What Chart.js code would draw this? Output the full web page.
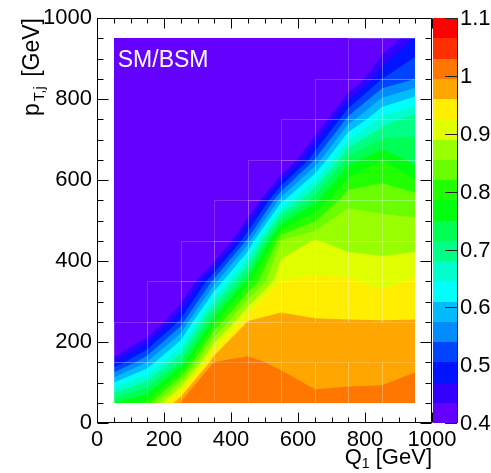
<!DOCTYPE html>
<html><head><meta charset="utf-8">
<script src="https://cdn.jsdelivr.net/npm/chart.js@4.4.1/dist/chart.umd.min.js"></script>
<style>html,body{margin:0;padding:0;background:#fff;}#wrap{width:491px;height:473px;}</style>
</head><body><div id="wrap"><canvas id="c" width="491" height="473"></canvas></div>
<script>
// ---- data: SM/BSM ratio at bin centres (Q1 columns, pT,j rows) ----
const qBins  = [50,150,250,350,450,550,650,750,850,950];
const ptBins = [50,150,250,350,450,550,650,750,850,950];
const row050 = [0.75,0.80,1.005,1.02,1.02,1.015,1.005,1.005,1.005,1.01];
const row150 = [0.47,0.575,0.72,0.995,1.0,0.99,0.975,0.98,0.982,0.99];
const row250 = [0.19,0.35,0.52,0.774,0.965,0.97,0.963,0.962,0.962,0.962];
const row350 = [0.1,0.1,0.34,0.554,0.767,0.927,0.93,0.93,0.915,0.93];
const row450 = [0.1,0.1,0.1,0.306,0.556,0.86,0.893,0.875,0.875,0.875];
const row550 = [0.1,0.1,0.1,0.1,0.345,0.594,0.74,0.85,0.845,0.84];
const row650 = [0.1,0.1,0.1,0.1,0.1,0.342,0.544,0.732,0.785,0.735];
const row750 = [0.1,0.1,0.1,0.1,0.1,0.1,0.364,0.552,0.655,0.70];
const row850 = [0.1,0.1,0.1,0.1,0.1,0.1,0.1,0.371,0.505,0.54];
const row950 = [0.1,0.1,0.1,0.1,0.1,0.1,0.1,0.1,0.385,0.475];
const contourLevels = [0.4,0.435,0.47,0.505,0.54,0.575,0.61,0.645,0.68,0.715,0.75,0.785,0.82,0.855,0.89,0.925,0.96,0.995,1.03,1.065,1.1];
const paletteColors = ['#6300ff','#3300ff','#0014ff','#0044ff','#008bff','#00bbff','#00fffb','#00ffcc','#00ff85','#00ff55','#00ff0e','#22ff00','#69ff00','#99ff00','#e0ff00','#ffee00','#ffa700','#ff7700','#ff3000','#ff0000'];
const axisTicks = [0,200,400,600,800,1000];
const zTickValues = [0.4,0.5,0.6,0.7,0.8,0.9,1.0,1.1];
const zTickLabels = ['0.4','0.5','0.6','0.7','0.8','0.9','1','1.1'];
const plotLabel = 'SM/BSM';

const grid = [row050,row150,row250,row350,row450,row550,row650,row750,row850,row950];
const FONT = "'Liberation Sans', Arial, Helvetica, sans-serif";

function bandOf(v){
  if (v < contourLevels[0]) return -1;
  for (let k=0;k<contourLevels.length-1;k++){ if (v < contourLevels[k+1]) return k; }
  return paletteColors.length-1;
}

const contourPlugin = {
  id:'contour',
  beforeDatasetsDraw(chart){
    const xs = chart.scales.x, ys = chart.scales.y, ctx = chart.ctx;
    ctx.save();
    for (let j=0;j<ptBins.length-1;j++){
      for (let i=0;i<qBins.length-1;i++){
        const X0 = Math.round(xs.getPixelForValue(qBins[i])), X1 = Math.round(xs.getPixelForValue(qBins[i+1]));
        const Y0 = Math.round(ys.getPixelForValue(ptBins[j])), Y1 = Math.round(ys.getPixelForValue(ptBins[j+1]));
        // perimeter: bottom-left, bottom-right, top-right, top-left
        const P = [[X0,Y0,grid[j][i]],[X1,Y0,grid[j][i+1]],[X1,Y1,grid[j+1][i+1]],[X0,Y1,grid[j+1][i]]];
        for (let k=0;k<paletteColors.length;k++){
          const T = k===0 ? -Infinity : contourLevels[k];
          const pts = [];
          for (let e=0;e<4;e++){
            const a = P[e], b = P[(e+1)%4];
            if (a[2] >= T) pts.push([a[0],a[1]]);
            if ((a[2]-T)*(b[2]-T) < 0){
              const t = (T-a[2])/(b[2]-a[2]);
              pts.push([a[0]+t*(b[0]-a[0]), a[1]+t*(b[1]-a[1])]);
            }
          }
          if (pts.length < 3) continue;
          ctx.fillStyle = paletteColors[k];
          ctx.beginPath();
          ctx.moveTo(pts[0][0], pts[0][1]);
          for (let m=1;m<pts.length;m++) ctx.lineTo(pts[m][0], pts[m][1]);
          ctx.closePath();
          ctx.fill();
        }
      }
    }
    // faint seams around cells that contain contour boundaries
    ctx.strokeStyle = 'rgba(255,255,255,0.18)';
    ctx.lineWidth = 1;
    for (let j=0;j<ptBins.length-1;j++){
      for (let i=0;i<qBins.length-1;i++){
        const b = [grid[j][i],grid[j][i+1],grid[j+1][i],grid[j+1][i+1]].map(bandOf);
        if (b.every(v=>v===b[0])) continue;
        const xa = Math.round(xs.getPixelForValue(qBins[i]))+0.5, xb = Math.round(xs.getPixelForValue(qBins[i+1]))+0.5;
        const ya = Math.round(ys.getPixelForValue(ptBins[j+1]))+0.5, yb = Math.round(ys.getPixelForValue(ptBins[j]))+0.5;
        ctx.strokeRect(xa, ya, xb-xa, yb-ya);
      }
    }
    ctx.restore();
  },
  afterDraw(chart){
    const xs = chart.scales.x, ys = chart.scales.y, ctx = chart.ctx;
    const a = chart.chartArea;
    const L = Math.round(a.left)+0.5, R = Math.round(a.right)-0.5, T = Math.round(a.top)+0.5, B = Math.round(a.bottom)-0.5;
    ctx.save();
    ctx.fillStyle = '#fff';
    ctx.font = '23px ' + FONT;
    ctx.textAlign = 'left'; ctx.textBaseline = 'alphabetic';
    ctx.fillText(plotLabel, xs.getPixelForValue(qBins[0]) + 4, ys.getPixelForValue(ptBins[ptBins.length-1]) + 29);
    ctx.strokeStyle = '#000'; ctx.lineWidth = 1;
    ctx.strokeRect(L, T, R-L, B-T);
    ctx.beginPath();
    for (let v = xs.min; v <= xs.max + 1e-6; v += 50){
      const major = axisTicks.includes(Math.round(v));
      const len = major ? 10 : 5;
      const x = Math.round(xs.getPixelForValue(v)) + 0.5;
      ctx.moveTo(x, B); ctx.lineTo(x, B-len);
      ctx.moveTo(x, T); ctx.lineTo(x, T+len);
    }
    for (let v = ys.min; v <= ys.max + 1e-6; v += 50){
      const major = axisTicks.includes(Math.round(v));
      const len = major ? 11 : 6;
      const y = Math.round(ys.getPixelForValue(v)) + 0.5;
      ctx.moveTo(L, y); ctx.lineTo(L+len, y);
      ctx.moveTo(R, y); ctx.lineTo(R-len, y);
    }
    ctx.stroke();
    // colour bar
    const cbL = Math.round(a.right)+1, cbR = cbL + 24;
    const zmin = contourLevels[0], zmax = contourLevels[contourLevels.length-1];
    const zpix = v => a.bottom - (v - zmin)/(zmax - zmin)*(a.bottom - a.top);
    for (let k=0;k<paletteColors.length;k++){
      const y1 = zpix(contourLevels[k]), y2 = zpix(contourLevels[k+1]);
      ctx.fillStyle = paletteColors[k];
      ctx.fillRect(cbL, Math.round(y2), cbR-cbL, Math.round(y1)-Math.round(y2));
    }
    ctx.strokeStyle = '#222';
    ctx.beginPath();
    ctx.moveTo(cbR+0.5, Math.round(a.top)); ctx.lineTo(cbR+0.5, Math.round(a.bottom));
    for (const v of zTickValues){
      const y = Math.round(zpix(v)) + 0.5;
      ctx.moveTo(cbR, y); ctx.lineTo(cbR-12, y);
    }
    ctx.stroke();
    ctx.fillStyle = '#000';
    ctx.font = '22px ' + FONT;
    ctx.textAlign = 'left'; ctx.textBaseline = 'middle';
    zTickValues.forEach((v,k)=>{ ctx.fillText(zTickLabels[k], cbR + 3, zpix(v) + 1); });
    // axis titles
    ctx.textBaseline = 'alphabetic';
    const xTitleMain = 'Q', xSub = '1', xRest = ' [GeV]';
    ctx.font = '22px ' + FONT; const wRest = ctx.measureText(xRest).width, wQ = ctx.measureText(xTitleMain).width;
    ctx.font = '14px ' + FONT; const wSub = ctx.measureText(xSub).width;
    const xe = Math.round(a.right), yb = 464;
    ctx.textAlign = 'left';
    const xs0 = xe - wRest - wSub - wQ;
    ctx.font = '22px ' + FONT; ctx.fillText(xTitleMain, xs0, yb);
    ctx.font = '14px ' + FONT; ctx.fillText(xSub, xs0 + wQ, yb + 4);
    ctx.font = '22px ' + FONT; ctx.fillText(xRest, xs0 + wQ + wSub, yb);
    ctx.save();
    ctx.translate(39, Math.round(a.top));
    ctx.rotate(-Math.PI/2);
    const yMain = 'p', ySub = 'T,j', yRest = ' [GeV]';
    ctx.font = '23px ' + FONT; const wp = ctx.measureText(yMain).width, wyr = ctx.measureText(yRest).width;
    ctx.font = '15px ' + FONT; const wys = ctx.measureText(ySub).width;
    const s0 = -(wp + wys + 5 + wyr);
    ctx.font = '23px ' + FONT; ctx.fillText(yMain, s0, 0);
    ctx.font = '15px ' + FONT; ctx.fillText(ySub, s0 + wp + 2, 5);
    ctx.font = '23px ' + FONT; ctx.fillText(yRest, s0 + wp + wys + 5, 0);
    ctx.restore();
    ctx.restore();
  }
};

new Chart(document.getElementById('c'), {
  type:'scatter',
  data:{ datasets:[{ data:[], pointRadius:0 }] },
  options:{
    responsive:false, animation:false, devicePixelRatio:1,
    layout:{ padding:{ left:0, right:59, top:15, bottom:0 } },
    plugins:{ legend:{display:false}, tooltip:{enabled:false} },
    scales:{
      x:{ type:'linear', min:0, max:1000,
          afterBuildTicks: s => { s.ticks = axisTicks.map(v=>({value:v})); },
          afterFit: s => { s.height = 50; },
          grid:{ display:false, drawTicks:false }, border:{ display:false },
          ticks:{ autoSkip:false, maxRotation:0, padding:4, color:'#000', font:{ family:FONT, size:22 }, callback: v => String(v) } },
      y:{ type:'linear', min:0, max:1000,
          afterBuildTicks: s => { s.ticks = axisTicks.map(v=>({value:v})); },
          afterFit: s => { s.width = 97; },
          grid:{ display:false, drawTicks:false }, border:{ display:false },
          ticks:{ autoSkip:false, padding:5, color:'#000', font:{ family:FONT, size:22 }, callback: v => String(v) } }
    }
  },
  plugins:[contourPlugin]
});
</script></body></html>
